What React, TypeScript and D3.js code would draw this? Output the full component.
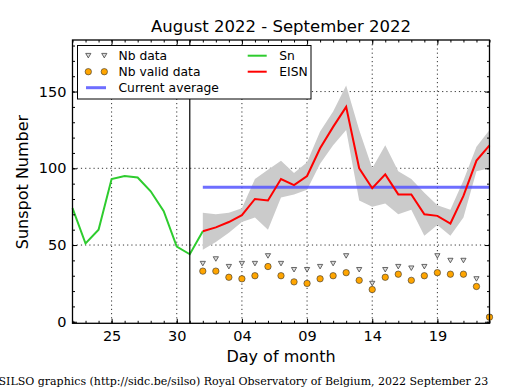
import { useEffect, useRef } from 'react'
import * as d3 from 'd3'

// days of the window, Aug 22 .. Sep 23 2022
const startDay = Date.UTC(2022, 7, 22)
const endDay = Date.UTC(2022, 8, 23)
const snStart = Date.UTC(2022, 7, 22)
const eisnStart = Date.UTC(2022, 8, 1)
const separator = Date.UTC(2022, 7, 31)
const majorTicks = [25, 30, 35, 40, 45, 50].map(d => Date.UTC(2022, 7, d))
const yMajor = [0, 50, 100, 150]

// Sn, Aug 22 .. Sep 1
const snValues = [74, 51, 60, 93, 95, 94, 85, 72, 49, 44, 59]
// EISN, Sep 1 .. Sep 23
const eisnValues = [59, 61.5, 65, 69.5, 80, 79, 93, 89, 95, 113, 127, 140, 100, 87, 96, 83, 83, 70, 69, 64, 82, 105, 115]
const eisnUpper = [71, 70, 71, 74, 93, 99, 105, 97, 104, 124, 137, 154, 125, 100, 115, 98, 93, 84, 76, 73, 92, 114, 125]
const eisnLower = [47, 52, 58, 65, 68, 60, 81, 83, 86, 103, 115, 125, 79, 75, 77, 70, 73, 56, 63, 56, 68, 98, 100]
const nbData = [38, 41, 36, 38, 38, 43, 38, 34, 34, 36, 38, 43, 34, 25, 34, 36, 35, 36, 43, 40, 40, 28, 3]
const nbValid = [33, 33, 29, 28, 30, 36, 30, 26, 25, 28, 30, 32, 27, 21, 29, 31, 27, 30, 32, 31, 31, 23, 3]
const currentAverage = 87.6

const DAY = 86400000
const W = 515
const H = 390
const L = 72.5, R = 489.5, T = 40, B = 323.3
const font = 'DejaVu Sans, sans-serif'

const x = d3.scaleUtc().domain([startDay, endDay]).range([L, R])
const y = d3.scaleLinear().domain([-1, 183.6]).range([B, T])

const snDates = snValues.map((_, i) => snStart + i * DAY)
const eisnDates = eisnValues.map((_, i) => eisnStart + i * DAY)

const App = () => {
  const axRef = useRef<SVGGElement>(null)

  useEffect(() => {
    const g = d3.select(axRef.current)
    g.selectAll('*').remove()
    const allDays = d3.utcDay.range(new Date(startDay), new Date(endDay + 1))
    const minorY = d3.range(0, 181, 10)
    const fmt = d3.utcFormat('%d')

    const style = (sel) => {
      sel.select('.domain').remove()
      sel.attr('font-family', font).attr('font-size', 14.5)
      sel.selectAll('line').attr('stroke', '#000').attr('stroke-width', 1)
      sel.selectAll('text').attr('fill', '#000')
    }

    g.append('g').attr('transform', `translate(0,${B})`)
      .call(d3.axisBottom(x).tickValues(majorTicks.map(d => new Date(d))).tickFormat(d => fmt(d)).tickSizeInner(-4.5).tickSizeOuter(0).tickPadding(7))
      .call(style)
    g.append('g').attr('transform', `translate(0,${B})`)
      .call(d3.axisBottom(x).tickValues(allDays).tickFormat(() => '').tickSizeInner(-2.5).tickSizeOuter(0))
      .call(style)
    g.append('g').attr('transform', `translate(0,${T})`)
      .call(d3.axisTop(x).tickValues(majorTicks.map(d => new Date(d))).tickFormat(() => '').tickSizeInner(-4.5).tickSizeOuter(0))
      .call(style)
    g.append('g').attr('transform', `translate(0,${T})`)
      .call(d3.axisTop(x).tickValues(allDays).tickFormat(() => '').tickSizeInner(-2.5).tickSizeOuter(0))
      .call(style)
    g.append('g').attr('transform', `translate(${L},0)`)
      .call(d3.axisLeft(y).tickValues(yMajor).tickFormat(d3.format('d')).tickSizeInner(-4.5).tickSizeOuter(0).tickPadding(6))
      .call(style)
    g.append('g').attr('transform', `translate(${L},0)`)
      .call(d3.axisLeft(y).tickValues(minorY).tickFormat(() => '').tickSizeInner(-2.5).tickSizeOuter(0))
      .call(style)
    g.append('g').attr('transform', `translate(${R},0)`)
      .call(d3.axisRight(y).tickValues(yMajor).tickFormat(() => '').tickSizeInner(-4.5).tickSizeOuter(0))
      .call(style)
    g.append('g').attr('transform', `translate(${R},0)`)
      .call(d3.axisRight(y).tickValues(minorY).tickFormat(() => '').tickSizeInner(-2.5).tickSizeOuter(0))
      .call(style)
  }, [])

  const band = d3.area<number>()
    .x((_, i) => x(eisnDates[i]))
    .y0((_, i) => y(eisnLower[i]))
    .y1(d => y(d))(eisnUpper)
  const snLine = d3.line<number>().x((_, i) => x(snDates[i])).y(d => y(d))(snValues)
  const eisnLine = d3.line<number>().x((_, i) => x(eisnDates[i])).y(d => y(d))(eisnValues)
  const tri = 'M-2.6,-2.1L2.6,-2.1L0,2.4Z'

  return (
    <div style={{ position: 'fixed', left: 0, top: 0 }}>
      <svg width={W} height={H} style={{ display: 'block', background: '#fff' }}>
        <text x={(L + R) / 2} y={32} textAnchor="middle" fontFamily={font} fontSize={16.5}>August 2022 - September 2022</text>
        {/* grid */}
        <g stroke="#000" strokeWidth={0.8} strokeDasharray="1.2,3">
          {majorTicks.map(d => <line key={d} x1={x(d)} x2={x(d)} y1={T} y2={B} />)}
          {yMajor.slice(1).map(v => <line key={v} x1={L} x2={R} y1={y(v)} y2={y(v)} />)}
        </g>
        <path d={band ?? ''} fill="#cbcbcb" />
        <line x1={x(eisnStart)} x2={R} y1={y(currentAverage)} y2={y(currentAverage)} stroke="#5555ff" strokeOpacity={0.85} strokeWidth={3} />
        <path d={snLine ?? ''} fill="none" stroke="#2ecc2e" strokeWidth={2} />
        <path d={eisnLine ?? ''} fill="none" stroke="#ff0000" strokeWidth={2} />
        <line x1={x(separator)} x2={x(separator)} y1={T} y2={B} stroke="#000" strokeWidth={1.2} />
        {nbData.map((v, i) => (
          <path key={'t' + i} d={tri} transform={`translate(${x(eisnDates[i])},${y(v)})`} fill="#dcdcdc" stroke="#444" strokeWidth={0.8} />
        ))}
        {nbValid.map((v, i) => (
          <circle key={'c' + i} cx={x(eisnDates[i])} cy={y(v)} r={3.2} fill="#ffa500" stroke="#333" strokeWidth={0.6} />
        ))}
        <g ref={axRef} />
        <rect x={L} y={T} width={R - L} height={B - T} fill="none" stroke="#000" strokeWidth={1.3} />
        {/* legend */}
        <g fontFamily={font} fontSize={12.3}>
          <rect x={77.5} y={45.5} width={233.5} height={53.5} fill="#fff" stroke="#000" strokeWidth={1} />
          <path d={tri} transform="translate(88.3,55.5)" fill="#dcdcdc" stroke="#444" strokeWidth={0.8} />
          <path d={tri} transform="translate(104.3,55.5)" fill="#dcdcdc" stroke="#444" strokeWidth={0.8} />
          <text x={118.5} y={60}>Nb data</text>
          <circle cx={88.3} cy={71.7} r={3.2} fill="#ffa500" stroke="#333" strokeWidth={0.6} />
          <circle cx={104.3} cy={71.7} r={3.2} fill="#ffa500" stroke="#333" strokeWidth={0.6} />
          <text x={118.5} y={76}>Nb valid data</text>
          <line x1={86} x2={106} y1={87.7} y2={87.7} stroke="#5555ff" strokeOpacity={0.85} strokeWidth={3} />
          <text x={118.5} y={91.5}>Current average</text>
          <line x1={247.7} x2={266.7} y1={55.7} y2={55.7} stroke="#2ecc2e" strokeWidth={2} />
          <text x={279.3} y={60}>Sn</text>
          <line x1={247.7} x2={266.7} y1={71.7} y2={71.7} stroke="#ff0000" strokeWidth={2} />
          <text x={279.3} y={76}>EISN</text>
        </g>
        <text transform={`translate(28,182) rotate(-90)`} textAnchor="middle" fontFamily={font} fontSize={16}>Sunspot Number</text>
        <text x={(L + R) / 2} y={362} textAnchor="middle" fontFamily={font} fontSize={16}>Day of month</text>
        <text x={-1.5} y={385} fontFamily="DejaVu Serif, serif" fontSize={11}>SILSO graphics (http://sidc.be/silso) Royal Observatory of Belgium, 2022 September 23</text>
      </svg>
    </div>
  )
}

export default App
